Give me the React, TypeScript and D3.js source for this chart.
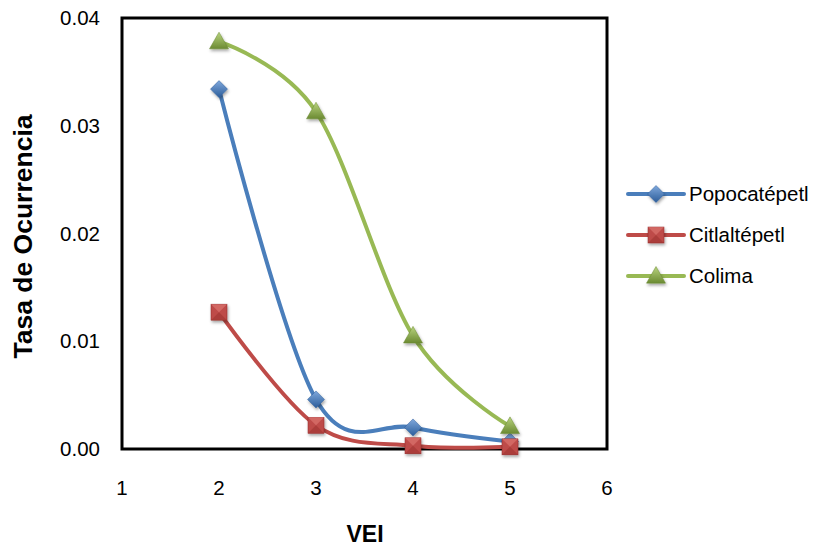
import React from "react";
import * as d3 from "d3";

const vei = [2, 3, 4, 5];
const popocatepetl = [0.0334, 0.0046, 0.002, 0.0007];
const citlaltepetl = [0.0127, 0.0022, 0.0003, 0.0002];
const colima = [0.0378, 0.0313, 0.0105, 0.0021];
const xTicks = [1, 2, 3, 4, 5, 6];
const yTicks = [0, 0.01, 0.02, 0.03, 0.04];
const seriesNames = ["Popocatépetl", "Citlaltépetl", "Colima"];

const W = 820, H = 549;
const L = 122, R = 607, T = 18, B = 449;

export default function App() {
  const x = d3.scaleLinear().domain([1, 6]).range([L, R]);
  const y = d3.scaleLinear().domain([0, 0.04]).range([B, T]);
  const series = [
    { name: seriesNames[0], vals: popocatepetl, color: "#4a7ebb", dark: "#2c5d9a", light: "#7fa8dc", shape: "diamond" },
    { name: seriesNames[1], vals: citlaltepetl, color: "#be4b48", dark: "#8f2b29", light: "#e07a77", shape: "square" },
    { name: seriesNames[2], vals: colima, color: "#98b954", dark: "#6b8a32", light: "#b9d47f", shape: "triangle" },
  ];
  const line = d3
    .line<[number, number]>()
    .x((d) => x(d[0]))
    .y((d) => y(d[1]))
    .curve(d3.curveCatmullRom.alpha(0));

  const marker = (s: any, cx: number, cy: number, key: string) => {
    if (s.shape === "diamond") {
      const r = 8.5;
      return (
        <path key={key} filter="url(#sh)" d={`M${cx},${cy - r}L${cx + r},${cy}L${cx},${cy + r}L${cx - r},${cy}Z`} fill={`url(#g${s.shape})`} stroke={s.dark} strokeWidth={0.5} />
      );
    }
    if (s.shape === "square") {
      const r = 8;
      return (
        <g key={key} filter="url(#sh)">
          <rect x={cx - r} y={cy - r} width={2 * r} height={2 * r} fill={s.color} stroke={s.dark} strokeWidth={0.5} />
          <path d={`M${cx - r},${cy - r}L${cx},${cy}L${cx + r},${cy - r}Z`} fill={s.light} opacity={0.6} />
          <path d={`M${cx - r},${cy + r}L${cx},${cy}L${cx + r},${cy + r}Z`} fill={s.dark} opacity={0.4} />
        </g>
      );
    }
    const r = 9.5;
    return (
      <path key={key} filter="url(#sh)" d={`M${cx},${cy - r}L${cx + r},${cy + r * 0.75}L${cx - r},${cy + r * 0.75}Z`} fill={`url(#g${s.shape})`} stroke={s.dark} strokeWidth={0.5} />
    );
  };

  const legY = [194, 235, 276];

  return (
    <svg width={W} height={H} style={{ position: "absolute", left: 0, top: 0, fontFamily: "'Liberation Sans', Arial, sans-serif" }}>
      <defs>
        <filter id="sh" x="-50%" y="-50%" width="200%" height="200%">
          <feDropShadow dx="1" dy="2" stdDeviation="1.5" floodColor="#000" floodOpacity="0.35" />
        </filter>
        {series.map((s) => (
          <linearGradient key={s.shape} id={`g${s.shape}`} x1="0" y1="0" x2="0" y2="1">
            <stop offset="0" stopColor={s.light} />
            <stop offset="1" stopColor={s.dark} />
          </linearGradient>
        ))}
      </defs>
      <rect x={0} y={0} width={W} height={H} fill="#fff" />
      <rect x={L} y={T} width={R - L} height={B - T} fill="none" stroke="#000" strokeWidth={3} />
      {yTicks.map((t) => (
        <text key={t} x={100} y={y(t)} dy="0.35em" textAnchor="end" fontSize={20.5} fill="#000">
          {t.toFixed(2)}
        </text>
      ))}
      {xTicks.map((t) => (
        <text key={t} x={x(t)} y={495} textAnchor="middle" fontSize={20.5} fill="#000">
          {t}
        </text>
      ))}
      <text transform={`translate(32,236.5) rotate(-90)`} textAnchor="middle" fontSize={26.5} fontWeight="bold" fill="#000">
        Tasa de Ocurrencia
      </text>
      <text x={365} y={542} textAnchor="middle" fontSize={23} fontWeight="bold" fill="#000">
        VEI
      </text>
      {series.map((s) => (
        <path key={s.name} d={line(vei.map((v, i) => [v, s.vals[i]]) as [number, number][]) || ""} fill="none" stroke={s.color} strokeWidth={4} strokeLinecap="round" />
      ))}
      {series.map((s) => s.vals.map((v, i) => marker(s, x(vei[i]), y(v), s.name + i)))}
      {series.map((s, i) => (
        <g key={"leg" + s.name}>
          <line x1={628} x2={684} y1={legY[i]} y2={legY[i]} stroke={s.color} strokeWidth={4} strokeLinecap="round" />
          {marker(s, 656, legY[i], "lm" + i)}
          <text x={689} y={legY[i]} dy="0.35em" fontSize={20.5} fill="#000">
            {s.name}
          </text>
        </g>
      ))}
    </svg>
  );
}
